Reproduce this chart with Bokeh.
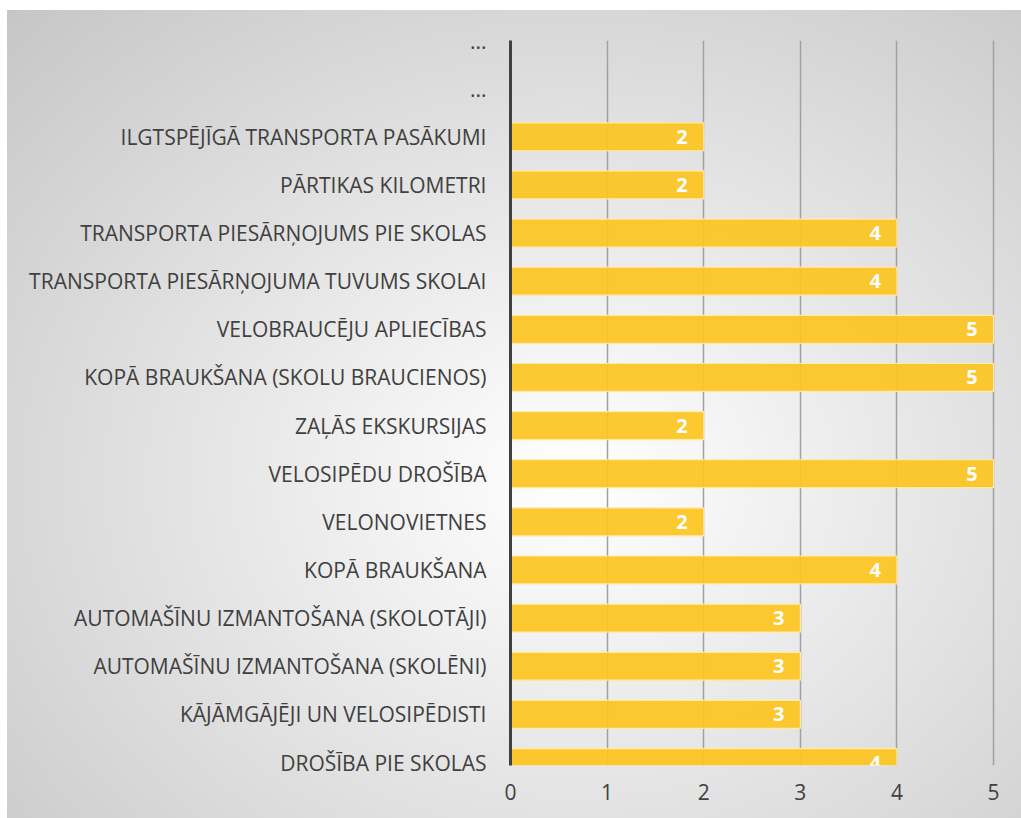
from bokeh.plotting import figure
from bokeh.models import ColumnDataSource, Range1d, FixedTicker
from bokeh.embed import file_html
from bokeh.resources import INLINE
from bokeh.core.properties import value

# Categories listed from bottom to top
categories = [
    "DROŠĪBA PIE SKOLAS",
    "KĀJĀMGĀJĒJI UN VELOSIPĒDISTI",
    "AUTOMAŠĪNU IZMANTOŠANA (SKOLĒNI)",
    "AUTOMAŠĪNU IZMANTOŠANA (SKOLOTĀJI)",
    "KOPĀ BRAUKŠANA",
    "VELONOVIETNES",
    "VELOSIPĒDU DROŠĪBA",
    "ZAĻĀS EKSKURSIJAS",
    "KOPĀ BRAUKŠANA (SKOLU BRAUCIENOS)",
    "VELOBRAUCĒJU APLIECĪBAS",
    "TRANSPORTA PIESĀRŅOJUMA TUVUMS SKOLAI",
    "TRANSPORTA PIESĀRŅOJUMS PIE SKOLAS",
    "PĀRTIKAS KILOMETRI",
    "ILGTSPĒJĪGĀ TRANSPORTA PASĀKUMI",
    "...",
    "...",
]
values = [4, 3, 3, 3, 4, 2, 5, 2, 5, 5, 4, 4, 2, 2, None, None]
x_ticks = [0, 1, 2, 3, 4, 5]

pos = list(range(len(categories)))
vals = [float("nan") if v is None else v for v in values]
labels = ["" if v is None else str(v) for v in values]
src = ColumnDataSource(dict(y=pos, v=vals, lab=labels))

FONT = "Open Sans"

p = figure(width=1021, height=818, output_backend="svg", toolbar_location=None,
           x_range=Range1d(0, 5.02), y_range=Range1d(-0.062, 15.0))
p.min_border_left = 510
p.min_border_right = 26
p.min_border_top = 40
p.min_border_bottom = 53
p.outline_line_color = None
p.background_fill_alpha = 0
p.border_fill_alpha = 0
p.styles = {
    "background-color": "#ffffff",
    "background-image": "radial-gradient(ellipse at 56% 58%, #ffffff 0%, #f4f4f4 20%, #c6c6c6 100%)",
    "background-repeat": "no-repeat",
    "background-position": "7px 10px",
    "background-size": "1014px 808px",
}

p.hbar(y="y", right="v", left=0, height=0.58, source=src,
       fill_color="#FDC420", fill_alpha=0.92, line_color="#FFE9A8", line_width=1.2)

p.text(x="v", y="y", text="lab", source=src, text_align="right", text_baseline="middle",
       x_offset=-16, text_color="white", text_font=value(FONT), text_font_style="bold",
       text_font_size="20px")

# x axis
p.xaxis.ticker = FixedTicker(ticks=x_ticks)
p.xaxis.axis_line_color = None
p.xaxis.major_tick_line_color = None
p.xaxis.minor_tick_line_color = None
p.xaxis.major_label_text_font = FONT
p.xaxis.major_label_text_font_size = "21px"
p.xaxis.major_label_text_color = "#404040"
p.xaxis.major_label_standoff = 12

# y axis
p.yaxis.ticker = FixedTicker(ticks=pos)
p.yaxis.major_label_overrides = {i: c for i, c in zip(pos, categories)}
p.yaxis.axis_line_color = "#404040"
p.yaxis.axis_line_width = 3
p.yaxis.major_tick_line_color = None
p.yaxis.minor_tick_line_color = None
p.yaxis.major_label_text_font = FONT
p.yaxis.major_label_text_font_size = "21px"
p.yaxis.major_label_text_color = "#404040"
p.yaxis.major_label_standoff = 18

p.ygrid.grid_line_color = None
p.xgrid.grid_line_color = "#a0a0a0"
p.xgrid.grid_line_width = 1.5

open("out.html", "w").write(file_html(p, INLINE))
